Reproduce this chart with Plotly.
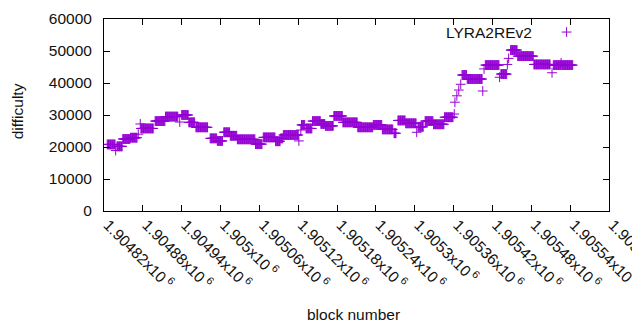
import plotly.graph_objects as go

# Runs of constant difficulty (first block, last block, difficulty)
run_first = [1904825, 1904838, 1904840, 1904849, 1904861, 1904873, 1904876, 1904877,
             1904899, 1904915, 1904937, 1904940, 1904951, 1904962, 1904984, 1904995,
             1905005, 1905015, 1905026, 1905054, 1905066, 1905085, 1905093, 1905097,
             1905121, 1905124, 1905125, 1905132, 1905142, 1905155, 1905162, 1905175,
             1905189, 1905212, 1905236, 1905250, 1905268, 1905274, 1905286, 1905303,
             1905305, 1905316, 1905329, 1905346, 1905361, 1905362, 1905365, 1905368,
             1905371, 1905373, 1905381, 1905405, 1905407, 1905409, 1905431, 1905433,
             1905443, 1905445, 1905448, 1905459, 1905484, 1905512, 1905514, 1905526,
             1905527]
run_last = [1904837, 1904838, 1904848, 1904860, 1904871, 1904873, 1904876, 1904896,
            1904914, 1904934, 1904937, 1904950, 1904960, 1904980, 1904994, 1905003,
            1905014, 1905025, 1905053, 1905064, 1905084, 1905092, 1905096, 1905120,
            1905121, 1905124, 1905130, 1905141, 1905154, 1905161, 1905174, 1905188,
            1905211, 1905235, 1905249, 1905266, 1905271, 1905285, 1905302, 1905303,
            1905313, 1905328, 1905345, 1905359, 1905361, 1905362, 1905365, 1905368,
            1905371, 1905380, 1905404, 1905405, 1905407, 1905430, 1905431, 1905442,
            1905443, 1905445, 1905458, 1905483, 1905509, 1905512, 1905525, 1905526,
            1905544]
run_difficulty = [20800, 18900, 20200, 22500, 22900, 24000, 27200, 25800,
                  28100, 29500, 27800, 30000, 27700, 26150, 22700, 21900,
                  24600, 23500, 22400, 20900, 23000, 21800, 22700, 23750,
                  21900, 25300, 26900, 25800, 28100, 27200, 26600, 29700,
                  27700, 26150, 26900, 25500, 24300, 28300, 27400, 24600,
                  26300, 28100, 27100, 29300, 30300, 34000, 36000, 37800,
                  39600, 42500, 41250, 37500, 44400, 45600, 41800, 42800,
                  45800, 47700, 50300, 48400, 45800, 43200, 45600, 46300,
                  45600]

x_ticks = [1904820 + 60 * i for i in range(14)]
x_tick_labels = ["1.90482", "1.90488", "1.90494", "1.905", "1.90506", "1.90512",
                 "1.90518", "1.90524", "1.9053", "1.90536", "1.90542", "1.90548",
                 "1.90554", "1.9056"]
y_ticks = [0, 10000, 20000, 30000, 40000, 50000, 60000]

blocks, diffs = [], []
for a, b, d in zip(run_first, run_last, run_difficulty):
    for blk in range(a, b + 1):
        blocks.append(blk)
        diffs.append(d)

COLOR = "#9400D3"
FONT = "Liberation Sans, Arial, sans-serif"
marker = dict(symbol="cross-thin", size=7, line=dict(width=1, color=COLOR), color=COLOR)

fig = go.Figure()
fig.add_trace(go.Scatter(x=blocks, y=diffs, mode="markers", marker=marker,
                         showlegend=False, xaxis="x", yaxis="y"))
# legend sample marker on an overlay axis
fig.add_trace(go.Scatter(x=[0.916], y=[0.932], mode="markers", marker=marker,
                         showlegend=False, xaxis="x2", yaxis="y2", hoverinfo="skip"))

# page body has an 8px margin, so the figure is 8px smaller and margins shifted
fig.update_layout(
    width=632, height=322,
    margin=dict(l=96, r=31, t=11, b=119, autoexpand=False),
    plot_bgcolor="white", paper_bgcolor="white",
    font=dict(family=FONT, size=15.5, color="#111"),
    xaxis=dict(range=[1904820, 1905600], tickvals=x_ticks,
               ticktext=[t + "x10<sup> 6</sup>" for t in x_tick_labels],
               tickangle=45, ticks="inside", ticklen=6, tickcolor="black",
               showline=True, linecolor="black", linewidth=1, mirror="allticks",
               showgrid=False, zeroline=False, automargin=False,
               ticklabeloverflow="allow", ticklabelshift=4, ticklabelstandoff=-2),
    yaxis=dict(range=[0, 60000], tickvals=y_ticks, ticktext=[str(v) for v in y_ticks],
               ticks="inside", ticklen=6, tickcolor="black",
               showline=True, linecolor="black", linewidth=1, mirror="allticks",
               showgrid=False, zeroline=False, ticklabelstandoff=8, automargin=False),
    xaxis2=dict(range=[0, 1], overlaying="x", visible=False),
    yaxis2=dict(range=[0, 1], overlaying="y", visible=False),
    annotations=[
        dict(text="LYRA2REv2", x=0.8515, y=0.932, xref="paper", yref="paper",
             xanchor="right", yanchor="middle", showarrow=False),
        dict(text="block number", x=0.495, y=-0.54, xref="paper", yref="paper",
             xanchor="center", yanchor="middle", showarrow=False),
        dict(text="difficulty", x=-0.172, y=0.52, xref="paper", yref="paper",
             xanchor="center", yanchor="middle", textangle=-90, showarrow=False),
    ],
)

fig.write_html("out.html")
